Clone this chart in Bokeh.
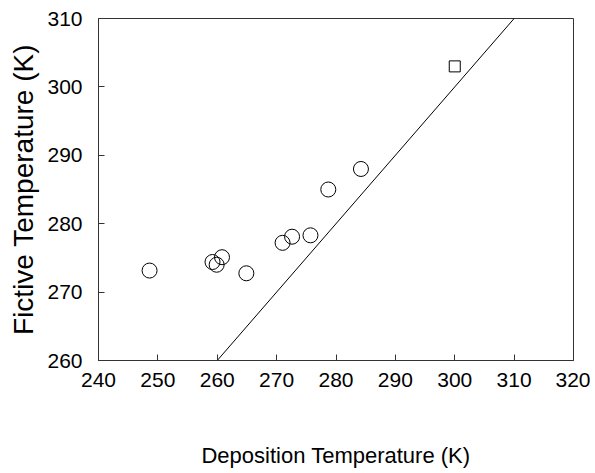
from bokeh.plotting import figure
from bokeh.embed import file_html
from bokeh.resources import INLINE
from bokeh.models import Range1d, FixedTicker

# Data
dep_temp = [248.6, 259.2, 259.9, 260.8, 264.9, 271.0, 272.6, 275.7, 278.7, 284.2]
fic_temp = [273.15, 274.4, 274.0, 275.1, 272.75, 277.2, 278.1, 278.3, 285.0, 288.0]
sq_dep = [300.0]
sq_fic = [303.0]
line_x = [250, 320]
line_y = [250, 320]  # y = x
x_ticks = [240, 250, 260, 270, 280, 290, 300, 310, 320]
y_ticks = [260, 270, 280, 290, 300, 310]

FONT = "Liberation Sans"

p = figure(width=590, height=470, output_backend="svg", toolbar_location=None,
           x_range=Range1d(240, 320), y_range=Range1d(260, 310),
           min_border_left=98, min_border_right=17, min_border_top=18,
           min_border_bottom=110)

p.line(line_x, line_y, line_color="black", line_width=1)
p.scatter(dep_temp, fic_temp, marker="circle", size=15, fill_color=None,
          line_color="black", line_width=1)
p.scatter(sq_dep, sq_fic, marker="square", size=11, fill_color=None,
          line_color="black", line_width=1)

p.grid.visible = False
p.outline_line_color = "#333333"
p.outline_line_width = 1

for ax in (p.xaxis[0], p.yaxis[0]):
    ax.axis_line_color = "#333333"
    ax.major_tick_line_color = "#333333"
    ax.major_tick_in = 6
    ax.major_tick_out = 0
    ax.minor_tick_line_color = None
    ax.major_label_text_font = FONT
    ax.major_label_text_color = "black"
    ax.major_label_text_font_size = "21px"
    ax.axis_label_text_font = FONT
    ax.axis_label_text_font_style = "normal"
    ax.axis_label_text_color = "black"

p.xaxis.ticker = FixedTicker(ticks=x_ticks)
p.yaxis.ticker = FixedTicker(ticks=y_ticks)
p.xaxis.axis_label = "Deposition Temperature (K)"
p.yaxis.axis_label = "Fictive Temperature (K)"
p.xaxis.axis_label_text_font_size = "22px"
p.yaxis.axis_label_text_font_size = "28px"
p.xaxis.major_label_standoff = 12
p.yaxis.major_label_standoff = 16
p.xaxis.axis_label_standoff = 53
p.yaxis.axis_label_standoff = 5

open("out.html", "w").write(file_html(p, INLINE))
